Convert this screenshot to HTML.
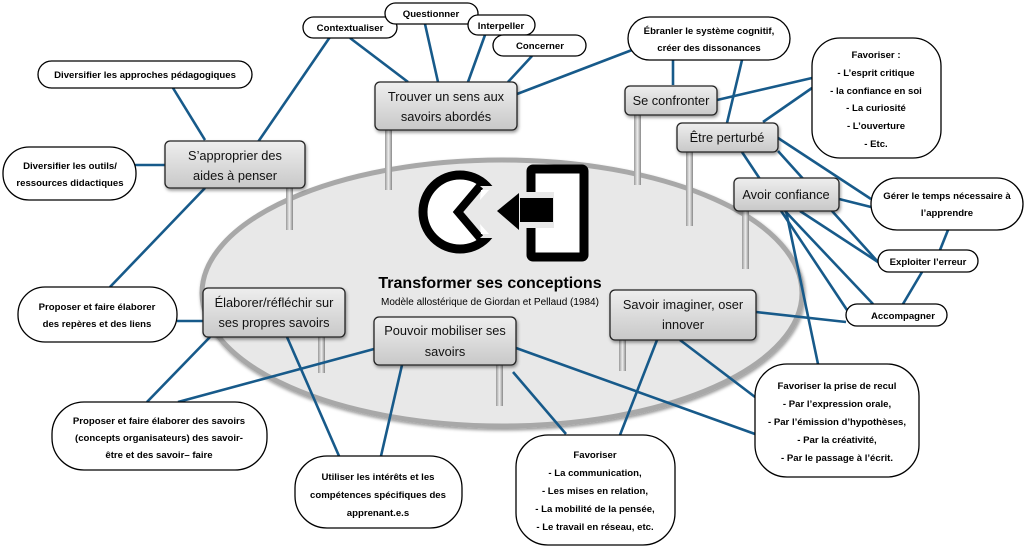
<!DOCTYPE html>
<html><head><meta charset="utf-8"><style>
html,body{margin:0;padding:0;background:#fff;width:1024px;height:549px;overflow:hidden}
svg text{font-family:"Liberation Sans Narrow","Liberation Sans",sans-serif;text-anchor:middle}
.o{font-weight:bold;font-size:9.6px;fill:#000}
.b{font-size:12.8px;fill:#111}
</style></head><body>
<svg width="1024" height="549" viewBox="0 0 1024 549" xmlns="http://www.w3.org/2000/svg">
<defs>
<linearGradient id="g" x1="0" y1="0" x2="0" y2="1"><stop offset="0" stop-color="#eeeeee"/><stop offset="1" stop-color="#c8c8c8"/></linearGradient>
<linearGradient id="p" x1="0" y1="0" x2="1" y2="0"><stop offset="0" stop-color="#999"/><stop offset="0.5" stop-color="#eee"/><stop offset="1" stop-color="#888"/></linearGradient>
<filter id="s" x="-20%" y="-20%" width="140%" height="140%"><feDropShadow dx="1" dy="2" stdDeviation="1.5" flood-opacity="0.4"/></filter>
</defs>
<ellipse cx="502" cy="293" rx="300" ry="133" fill="#e8e8e8" stroke="#a8a8a8" stroke-width="5" filter="url(#s)"/>
<g fill="url(#p)">
<rect x="286" y="186" width="7" height="44"/>
<rect x="385" y="128" width="7" height="62"/>
<rect x="634" y="113" width="7" height="72"/>
<rect x="686" y="150" width="7" height="76"/>
<rect x="742" y="209" width="7" height="60"/>
<rect x="619" y="338" width="7" height="33"/>
<rect x="318" y="335" width="7" height="38"/>
<rect x="496" y="363" width="7" height="43"/>
</g>
<g>
<circle cx="460" cy="212" r="37" fill="#fff" stroke="#000" stroke-width="9"/>
<path d="M505 186 L477 186 L456 212 L477 238 L505 238 Z" fill="#e8e8e8"/>
<path d="M480 186 L458 212 L480 238" fill="none" stroke="#000" stroke-width="8"/>
<path d="M481 190 L489 190 L480 200 Z M481 234 L489 234 L480 224 Z" fill="#fff"/>
<rect x="531" y="169" width="53" height="88" fill="#fff" stroke="#000" stroke-width="9" rx="2"/>
<rect x="520" y="192" width="34" height="36" fill="#e8e8e8"/>
<rect x="520" y="198" width="33" height="24" fill="#000"/>
<path d="M497 211 L519 193 L519 230 Z" fill="#000"/>
</g>
<text x="490" y="288" style="font-weight:bold;font-size:16px">Transformer ses conceptions</text>
<text x="490" y="305" style="font-size:10px">Modèle allostérique de Giordan et Pellaud (1984)</text>
<g stroke="#175a8a" stroke-width="2.6" fill="none">
<line x1="173" y1="88" x2="205" y2="140"/>
<line x1="134" y1="165" x2="165" y2="165"/>
<line x1="205" y1="188" x2="110" y2="287"/>
<line x1="258" y1="142" x2="330" y2="37"/>
<line x1="350" y1="38" x2="408" y2="82"/>
<line x1="425" y1="24" x2="438" y2="82"/>
<line x1="485" y1="35" x2="468" y2="82"/>
<line x1="532" y1="56" x2="508" y2="82"/>
<line x1="517" y1="94" x2="632" y2="50"/>
<line x1="673" y1="60" x2="673" y2="85"/>
<line x1="742" y1="60" x2="727" y2="123"/>
<line x1="717" y1="100" x2="812" y2="78"/>
<line x1="763" y1="122" x2="812" y2="88"/>
<line x1="775" y1="136" x2="871" y2="199"/>
<line x1="742" y1="152" x2="847" y2="310"/>
<line x1="778" y1="151" x2="878" y2="262"/>
<line x1="839" y1="199" x2="871" y2="207"/>
<line x1="800" y1="211" x2="878" y2="262"/>
<line x1="785" y1="211" x2="873" y2="304"/>
<line x1="786" y1="211" x2="818" y2="364"/>
<line x1="948" y1="230" x2="940" y2="250"/>
<line x1="922" y1="272" x2="903" y2="304"/>
<line x1="756" y1="312" x2="846" y2="322"/>
<line x1="657" y1="340" x2="620" y2="435"/>
<line x1="680" y1="340" x2="755" y2="397"/>
<line x1="516" y1="348" x2="755" y2="434"/>
<line x1="513" y1="372" x2="566" y2="434"/>
<line x1="402" y1="365" x2="381" y2="456"/>
<line x1="287" y1="337" x2="339" y2="456"/>
<line x1="210" y1="337" x2="147" y2="402"/>
<line x1="374" y1="349" x2="178" y2="402"/>
<line x1="203" y1="321" x2="177" y2="321"/>
</g>
<g fill="url(#g)" stroke="#222" stroke-width="1.3" filter="url(#s)">
<rect x="165" y="141" width="140" height="47" rx="5"/>
<rect x="375" y="82" width="142" height="48" rx="5"/>
<rect x="625" y="86" width="92" height="29" rx="5"/>
<rect x="677" y="123" width="101" height="29" rx="5"/>
<rect x="734" y="178" width="105" height="33" rx="5"/>
<rect x="610" y="290" width="146" height="50" rx="5"/>
<rect x="203" y="288" width="142" height="49" rx="5"/>
<rect x="374" y="317" width="142" height="48" rx="5"/>
</g>
<g class="b">
<text x="235" y="160">S’approprier des</text><text x="235" y="180">aides à penser</text>
<text x="446" y="101">Trouver un sens aux</text><text x="446" y="121">savoirs abordés</text>
<text x="671" y="105">Se confronter</text>
<text x="727" y="142">Être perturbé</text>
<text x="786" y="199">Avoir confiance</text>
<text x="683" y="309">Savoir imaginer, oser</text><text x="683" y="329">innover</text>
<text x="274" y="307">Élaborer/réfléchir sur</text><text x="274" y="327">ses propres savoirs</text>
<text x="445" y="335">Pouvoir mobiliser ses</text><text x="445" y="356">savoirs</text>
</g>
<g fill="#fff" stroke="#000" stroke-width="1.3">
<rect x="303" y="17" width="94" height="21" rx="10.5"/>
<rect x="385" y="3" width="93" height="21" rx="10.5"/>
<rect x="468" y="15" width="67" height="20" rx="10"/>
<rect x="493" y="35" width="93" height="21" rx="10.5"/>
<rect x="38" y="61" width="214" height="27" rx="13.5"/>
<rect x="628" y="17" width="162" height="43" rx="21.5"/>
<rect x="812" y="38" width="129" height="120" rx="28"/>
<rect x="3" y="147" width="133" height="53" rx="26"/>
<rect x="871" y="178" width="152" height="52" rx="26"/>
<rect x="878" y="250" width="100" height="22" rx="11"/>
<rect x="846" y="304" width="101" height="22" rx="11"/>
<rect x="18" y="287" width="159" height="55" rx="27"/>
<rect x="52" y="402" width="215" height="68" rx="32"/>
<rect x="295" y="456" width="167" height="72" rx="32"/>
<rect x="516" y="435" width="159" height="110" rx="32"/>
<rect x="755" y="364" width="164" height="113" rx="32"/>
</g>
<g class="o">
<text x="350" y="31">Contextualiser</text>
<text x="431" y="17">Questionner</text>
<text x="501" y="29">Interpeller</text>
<text x="540" y="49">Concerner</text>
<text x="145" y="78">Diversifier les approches pédagogiques</text>
<text x="709" y="34">Ébranler le système cognitif,</text><text x="709" y="51">créer des dissonances</text>
<text x="876" y="58">Favoriser :</text><text x="876" y="76">- L’esprit critique</text><text x="876" y="94">- la confiance en soi</text><text x="876" y="111">- La curiosité</text><text x="876" y="129">- L’ouverture</text><text x="876" y="147">- Etc.</text>
<text x="70" y="169">Diversifier les outils/</text><text x="70" y="186">ressources didactiques</text>
<text x="947" y="199">Gérer le temps nécessaire à</text><text x="947" y="216">l’apprendre</text>
<text x="928" y="265">Exploiter l’erreur</text>
<text x="903" y="319">Accompagner</text>
<text x="97" y="310">Proposer et faire élaborer</text><text x="97" y="327">des repères et des liens</text>
<text x="159" y="424">Proposer et faire élaborer des savoirs</text><text x="159" y="441">(concepts organisateurs) des savoir-</text><text x="159" y="458">être et des savoir– faire</text>
<text x="378" y="480">Utiliser les intérêts et les</text><text x="378" y="498">compétences spécifiques des</text><text x="378" y="516">apprenant.e.s</text>
<text x="595" y="458">Favoriser</text><text x="595" y="476">- La communication,</text><text x="595" y="494">- Les mises en relation,</text><text x="595" y="512">- La mobilité de la pensée,</text><text x="595" y="530">- Le travail en réseau, etc.</text>
<text x="837" y="389">Favoriser la prise de recul</text><text x="837" y="407">- Par l’expression orale,</text><text x="837" y="425">- Par l’émission d’hypothèses,</text><text x="837" y="443">- Par la créativité,</text><text x="837" y="461">- Par le passage à l’écrit.</text>
</g>
</svg>
</body></html>
